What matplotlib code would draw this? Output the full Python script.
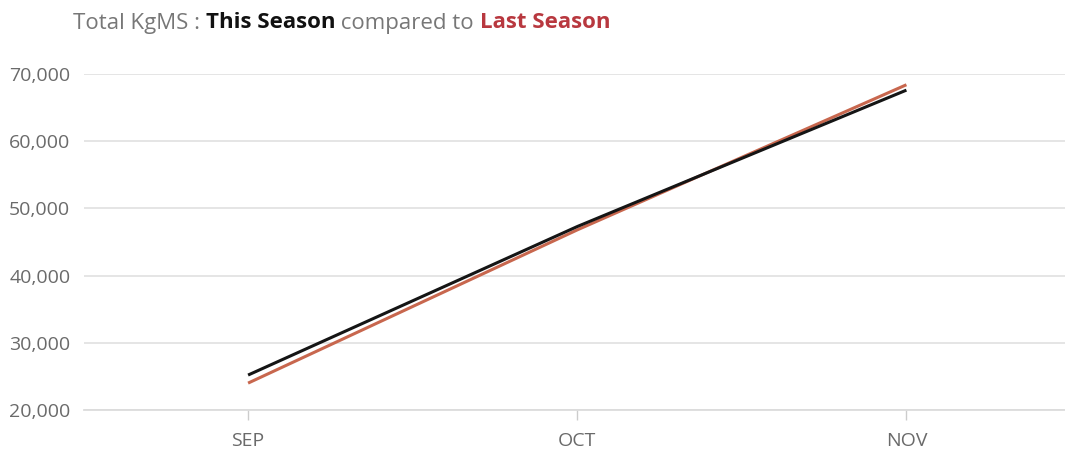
import matplotlib
matplotlib.use("Agg")
import matplotlib.pyplot as plt
from matplotlib.ticker import FuncFormatter

months = ["SEP", "OCT", "NOV"]
this_season = [25200, 47300, 67600]
last_season = [24000, 46800, 68400]
y_ticks = [20000, 30000, 40000, 50000, 60000, 70000]

plt.rcParams["font.family"] = ["Open Sans", "DejaVu Sans"]

fig = plt.figure(figsize=(10.65, 4.53), dpi=100)
ax = fig.add_axes([83.5 / 1065, 1 - 410 / 453, (1071 - 83.5) / 1065, (410 - 74) / 453])

x = list(range(len(months)))
ax.plot(x, last_season, color="#c8674e", lw=2.2, solid_capstyle="butt", zorder=3)
ax.plot(x, this_season, color="#151515", lw=2.2, solid_capstyle="butt", zorder=4)

ax.set_xlim(-0.5, len(months) - 0.5)
ax.set_ylim(y_ticks[0], y_ticks[-1])
ax.set_yticks(y_ticks)
ax.yaxis.set_major_formatter(FuncFormatter(lambda v, p: f"{int(v):,}"))
ax.set_xticks(x)
ax.set_xticklabels(months)

ax.grid(axis="y", color="#e3e3e3", lw=1.3)
ax.set_axisbelow(True)
for s in ["top", "right", "left"]:
    ax.spines[s].set_visible(False)
ax.spines["bottom"].set_color("#dcdcdc")
ax.spines["bottom"].set_linewidth(1.3)
ax.tick_params(axis="y", length=0, pad=9.5, labelsize=14, labelcolor="#6a6a6a")
ax.tick_params(axis="x", length=7, width=1, color="#cccccc", pad=9,
               labelsize=14, labelcolor="#6a6a6a")

# Title built from coloured pieces placed side by side
pieces = [
    ("Total KgMS : ", "#777777", "normal"),
    ("This Season", "#111111", "bold"),
    (" compared to ", "#777777", "normal"),
    ("Last Season", "#b8383f", "bold"),
]
renderer = fig.canvas.get_renderer()
xpos = 73
for txt, col, wt in pieces:
    t = fig.text(xpos / 1065, 1 - 23 / 453, txt, color=col, fontweight=wt,
                 fontsize=16, va="center", ha="left")
    bb = t.get_window_extent(renderer=renderer)
    xpos += bb.width

fig.savefig("out.png", dpi=100)
